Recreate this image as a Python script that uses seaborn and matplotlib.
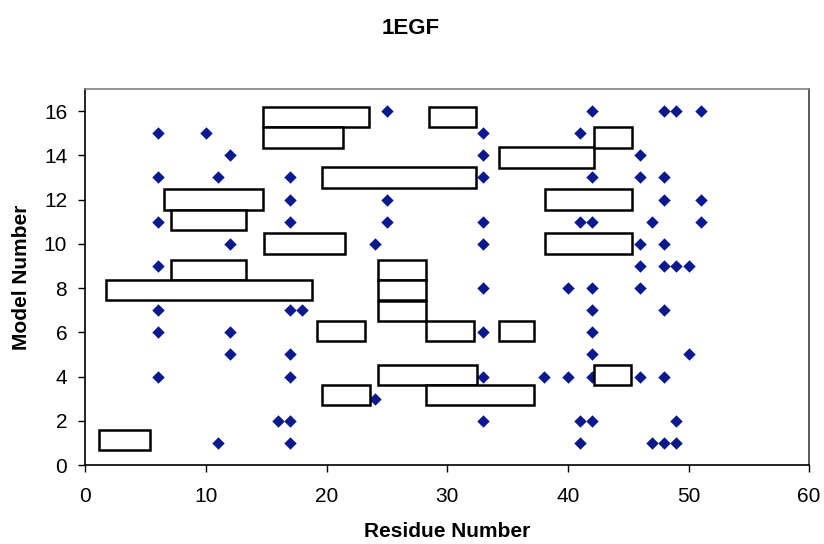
import matplotlib
matplotlib.use('Agg')
import numpy as np
import pandas as pd
import matplotlib.pyplot as plt
import seaborn as sns

# diamonds: residue number per model number
diamond_residue = [
    25, 42, 48, 49, 51,            # 16
    6, 10, 33, 41,                 # 15
    12, 33, 46,                    # 14
    6, 11, 17, 33, 42, 46, 48,     # 13
    17, 25, 48, 51,                # 12
    6, 17, 25, 33, 41, 42, 47, 51, # 11
    12, 24, 33, 46, 48,            # 10
    6, 46, 48, 49, 50,             # 9
    33, 40, 42, 46,                # 8
    6, 17, 18, 42, 48,             # 7
    6, 12, 33, 42,                 # 6
    12, 17, 42, 50,                # 5
    6, 17, 33, 38, 40, 42, 46, 48, # 4
    24,                            # 3
    16, 17, 33, 41, 42, 49,        # 2
    11, 17, 41, 47, 48, 49,        # 1
]
diamond_model = ([16] * 5 + [15] * 4 + [14] * 3 + [13] * 7 + [12] * 4 + [11] * 8 +
                 [10] * 5 + [9] * 5 + [8] * 4 + [7] * 5 + [6] * 4 + [5] * 4 +
                 [4] * 8 + [3] * 1 + [2] * 6 + [1] * 6)

# boxes: residue span and (hand placed) model level
box_start = [14.7, 14.7, 28.5, 34.3, 42.2, 19.6, 6.5, 38.1, 7.1, 14.8, 38.1, 7.1,
             1.7, 24.3, 24.3, 24.3, 19.2, 28.2, 34.3, 24.3, 42.2, 19.6, 28.2, 1.15]
box_end = [23.5, 21.4, 32.35, 42.2, 45.3, 32.4, 14.7, 45.3, 13.3, 21.5, 45.3, 13.3,
           18.8, 28.2, 28.2, 28.2, 23.2, 32.25, 37.2, 32.5, 45.2, 23.6, 37.2, 5.4]
box_level = [15.72, 14.8, 15.72, 13.91, 14.8, 13.0, 12.0, 12.0, 11.07, 10.02, 10.02, 8.83,
             7.91, 8.83, 7.9, 6.97, 6.06, 6.06, 6.06, 4.07, 4.07, 3.17, 3.17, 1.13]
box_height = 0.92

df = pd.DataFrame({'residue': diamond_residue, 'model': diamond_model})

sns.set_style('white')
plt.rcParams['font.family'] = ['Liberation Sans', 'DejaVu Sans']
plt.rcParams['text.color'] = 'black'
plt.rcParams['axes.labelcolor'] = 'black'
plt.rcParams['xtick.color'] = 'black'
plt.rcParams['ytick.color'] = 'black'

fig = plt.figure(figsize=(8.24, 5.44), dpi=100)
ax = fig.add_axes([0.1035, 0.1452, 0.8785, 0.6912])

sns.scatterplot(data=df, x='residue', y='model', marker='D', color='#0A1A8E',
                s=40, linewidth=0, ax=ax, zorder=2)

widths = np.array(box_end) - np.array(box_start)
ax.barh(box_level, widths, left=box_start, height=box_height,
        facecolor='white', edgecolor='black', linewidth=1.8, zorder=3)

ax.set_xlim(0, 60)
ax.set_ylim(0, 17)
ax.set_xticks(range(0, 61, 10))
ax.set_yticks(range(0, 17, 2))
ax.tick_params(axis='both', direction='out', length=5, width=1,
               labelsize=15, bottom=True, left=True)
ax.tick_params(axis='x', pad=11)
ax.tick_params(axis='y', pad=8)

for side in ['left', 'bottom']:
    ax.spines[side].set_color('black')
    ax.spines[side].set_linewidth(1.2)
ax.spines['top'].set_color('#808080')
ax.spines['right'].set_color('#404040')
ax.spines['top'].set_linewidth(1.2)
ax.spines['right'].set_linewidth(1.2)

ax.set_xlabel('Residue Number', fontsize=15, fontweight='bold', labelpad=11)
ax.set_ylabel('Model Number', fontsize=15, fontweight='bold', labelpad=9)
fig.text(0.498, 0.948, '1EGF', ha='center', va='center', fontsize=16, fontweight='bold')

fig.savefig('out.png', dpi=100)
plt.close()
